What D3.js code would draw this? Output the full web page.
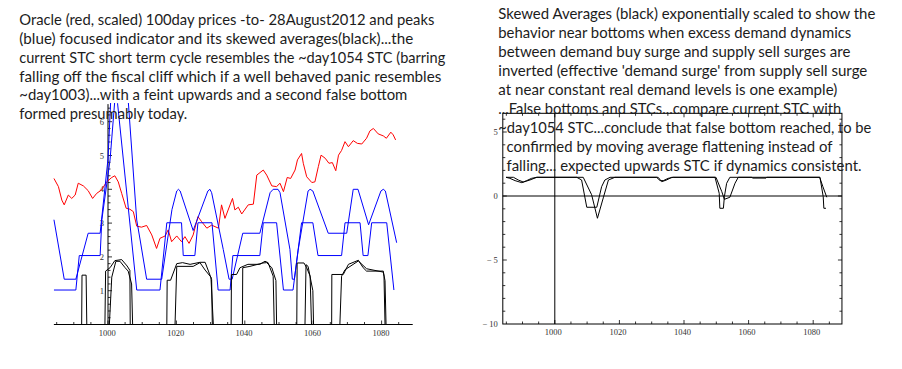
<!DOCTYPE html>
<html>
<head>
<meta charset="utf-8">
<script src="https://cdnjs.cloudflare.com/ajax/libs/d3/7.8.5/d3.min.js"></script>
<style>
  body { margin: 0; background: #fff; }
  svg { display: block; }
  .note { font-family: Lato, "Open Sans", sans-serif; font-size: 14.4px; fill: #1c1c1c; }
  .tick-label { font-family: "Liberation Serif", "DejaVu Serif", serif; font-size: 8.5px; fill: #333; }
</style>
</head>
<body>
<div id="chart_container"></div>
<script>
// DATA

// oracle price, scaled (red)
const priceDays = [984.2, 985.5, 986.5, 987.2, 988.4, 989.4, 990.4, 991.3, 992.8, 994.2, 995.5, 996.7, 998.1, 999.6,
  1001.1, 1002.0, 1003.0, 1004.0, 1005.3, 1006.4, 1007.4, 1008.4, 1009.8, 1011.3, 1012.8, 1014.2, 1015.2, 1016.7,
  1017.6, 1018.6, 1020.1, 1021.5, 1022.5, 1023.7, 1024.9, 1026.3, 1027.4, 1028.9, 1030.3, 1032.3, 1033.2, 1034.2,
  1036.4, 1037.1, 1038.1, 1039.1, 1041.0, 1042.5, 1043.5, 1045.4, 1046.4, 1047.9, 1049.3, 1050.3, 1051.3, 1052.4,
  1053.4, 1054.7, 1055.4, 1056.6, 1057.1, 1058.1, 1059.6, 1060.5, 1061.5, 1062.3, 1063.5, 1064.6, 1065.6, 1066.6,
  1067.4, 1068.3, 1069.3, 1070.3, 1071.7, 1072.9, 1074.2, 1075.6, 1076.6, 1077.6, 1079.0, 1080.5, 1081.4, 1082.7,
  1083.4, 1084.1];
const priceValues = [4.32, 4.08, 3.68, 3.54, 3.83, 3.73, 3.83, 4.18, 4.10, 3.96, 3.73, 3.88, 3.98, 4.22,
  4.35, 4.40, 4.22, 3.88, 3.44, 3.41, 3.34, 2.91, 2.88, 2.93, 2.65, 2.25, 2.55, 2.62,
  2.80, 2.45, 2.62, 2.45, 2.60, 2.40, 2.65, 3.19, 3.04, 2.85, 2.94, 2.85, 3.54, 3.14,
  3.73, 3.39, 3.47, 3.27, 3.54, 3.56, 4.42, 4.57, 4.42, 4.10, 4.08, 4.18, 3.93, 4.35,
  4.32, 4.57, 4.87, 5.06, 4.77, 4.37, 4.20, 4.22, 4.67, 5.01, 4.92, 4.77, 4.79, 4.55,
  5.01, 5.15, 5.41, 5.26, 5.44, 5.36, 5.34, 5.51, 5.73, 5.80, 5.64, 5.58, 5.51, 5.69,
  5.61, 5.46];

// peaks focused indicator (blue), [day, value]
const plateauIndicator = [[984.2, 1.02], [990.6, 1.02], [991.6, 2.04], [997.7, 2.04], [998.2, 3.1], [1000.6, 4.87],
  [1002.0, 6.64], [1002.5, 7.2], [1002.8, 6.54], [1008.4, 1.02], [1015.2, 1.02], [1017.2, 3.01], [1021.5, 3.01],
  [1022.0, 2.04], [1025.4, 2.04], [1026.3, 3.01], [1030.4, 3.01], [1032.2, 1.02], [1035.7, 1.02], [1036.5, 2.04],
  [1044.4, 2.04], [1045.4, 3.01], [1049.3, 3.01], [1051.3, 1.02], [1054.1, 1.02], [1056.6, 3.01], [1059.9, 3.01],
  [1061.4, 2.04], [1068.3, 2.04], [1069.3, 3.01], [1073.7, 3.01], [1074.6, 2.04], [1076.0, 2.04], [1077.1, 3.01],
  [1081.5, 3.01], [1083.6, 1.02]];
const peakIndicator = [[984.2, 3.1], [987.2, 1.34], [990.6, 1.34], [994.2, 2.70], [997.7, 2.70], [1000.0, 4.9],
  [1000.8, 6.64], [1001.5, 8.5], [1005.3, 8.5], [1005.9, 6.64], [1008.4, 3.09], [1009.4, 2.5], [1011.3, 1.34],
  [1015.7, 1.34], [1018.7, 3.4], [1020.1, 3.95], [1020.6, 4.0], [1021.1, 3.95], [1024.9, 2.78], [1029.2, 3.95],
  [1029.8, 4.0], [1030.3, 3.9], [1033.7, 2.22], [1035.4, 1.34], [1036.3, 1.34], [1039.4, 2.70], [1044.4, 2.70],
  [1047.4, 3.9], [1048.3, 4.0], [1049.7, 4.0], [1050.3, 3.9], [1053.2, 2.22], [1053.9, 1.34], [1054.5, 1.34],
  [1055.6, 2.2], [1058.5, 3.95], [1059.1, 4.0], [1059.9, 3.95], [1064.4, 2.70], [1069.8, 2.70], [1071.7, 4.0],
  [1073.1, 4.0], [1076.2, 2.95], [1079.8, 3.95], [1080.5, 4.0], [1081.1, 3.95], [1084.4, 2.42]];

// skewed averages (black), [day, value]
const skewedFast = [[984.2, 0], [992.3, 0], [992.4, 1.46], [993.6, 1.46], [993.8, 0], [999.1, 0], [999.3, 1.58],
  [1000.6, 1.68], [1002.0, 1.89], [1004.0, 1.92], [1005.6, 1.73], [1006.4, 1.6], [1006.5, 0], [1017.2, 0],
  [1017.3, 1.31], [1018.3, 1.31], [1020.1, 1.80], [1021.8, 1.83], [1024.0, 1.78], [1026.9, 1.84], [1028.4, 1.84],
  [1030.3, 1.33], [1030.5, 0], [1036.0, 0], [1036.1, 1.48], [1037.6, 1.48], [1038.6, 1.68], [1040.9, 1.78],
  [1044.4, 1.78], [1045.9, 1.87], [1046.8, 1.83], [1048.3, 1.43], [1048.6, 0], [1055.2, 0], [1055.3, 1.82],
  [1057.3, 1.82], [1058.1, 1.68], [1059.1, 1.43], [1059.5, 0], [1065.4, 0], [1065.45, 1.48], [1068.8, 1.48],
  [1070.3, 1.78], [1073.2, 1.90], [1074.6, 1.68], [1075.6, 1.58], [1080.5, 1.58], [1080.7, 1.43], [1081.0, 0],
  [1084.4, 0]];
const skewedSlow = [[984.2, 0], [1000.4, 0], [1001.1, 1.4], [1002.3, 1.87], [1003.5, 1.87], [1005.0, 1.68],
  [1005.9, 1.58], [1006.9, 1.2], [1007.2, 0], [1019.6, 0], [1020.1, 1.72], [1024.9, 1.72], [1026.9, 1.83],
  [1028.4, 1.61], [1030.1, 1.4], [1030.8, 0], [1039.3, 0], [1039.4, 1.68], [1041.5, 1.72], [1045.3, 1.82],
  [1046.4, 1.83], [1047.9, 1.68], [1049.1, 1.3], [1049.3, 0], [1057.6, 0], [1057.9, 1.77], [1058.5, 1.72],
  [1059.9, 1.0], [1060.1, 0], [1067.8, 0], [1068.3, 1.43], [1069.3, 1.62], [1073.2, 1.88], [1075.6, 1.65],
  [1080.5, 1.55], [1081.0, 1.3], [1081.3, 0], [1084.4, 0]];

// exponentially scaled skewed averages (right panel), [day, value]
const expSkewedFast = [[984.9, 1.46], [986.1, 1.38], [987.7, 1.2], [989.8, 1.04], [991.3, 1.2], [992.8, 1.38],
  [994.5, 1.46], [1006.8, 1.46], [1008.3, 1.25], [1009.9, -0.88], [1013.0, -0.88], [1014.5, 0.73], [1015.5, 1.25],
  [1017.1, 1.46], [1031.5, 1.46], [1032.6, 1.2], [1033.6, 1.2], [1035.1, 1.38], [1036.7, 1.46], [1049.6, 1.46],
  [1050.9, 0.21], [1051.1, -0.96], [1052.2, -0.96], [1052.5, -0.05], [1053.2, 0.99], [1054.2, 1.46], [1061.0, 1.46],
  [1061.2, 1.40], [1065.4, 1.40], [1065.6, 1.46], [1082.1, 1.46], [1083.1, -0.05], [1083.3, -0.96], [1083.95, -0.96]];
const expSkewedSlow = [[984.9, 1.46], [987.2, 1.46], [988.7, 1.25], [990.25, 1.09], [992.3, 1.25], [994.4, 1.46],
  [1008.8, 1.46], [1011.4, 0.1], [1013.2, -1.74], [1015.0, -0.15], [1016.6, 1.25], [1018.6, 1.46], [1032.0, 1.46],
  [1033.1, 1.12], [1034.6, 1.25], [1036.2, 1.46], [1049.9, 1.46], [1051.7, 0.34], [1052.5, -0.26], [1054.2, -0.1],
  [1055.8, 1.0], [1056.8, 1.46], [1082.0, 1.46], [1083.0, 0.73], [1084.2, -0.1]];

const dayTicks = [1000, 1020, 1040, 1060, 1080];
const leftValueTicks = [1, 2, 3, 4, 5, 6];
const rightValueTicks = [-10, -5, 0, 5];

const leftNote = [
  "Oracle (red, scaled) 100day prices -to- 28August2012 and peaks",
  "(blue) focused indicator and its skewed averages(black)...the",
  "current STC short term cycle resembles the ~day1054 STC (barring",
  "falling off the fiscal cliff which if a well behaved panic resembles",
  "~day1003)...with a feint upwards and a second false bottom",
  "formed presumably today."
];
const rightNote = [
  "Skewed Averages (black) exponentially scaled to show the",
  "behavior near bottoms when excess demand dynamics",
  "between demand buy surge and supply sell surges are",
  "inverted (effective 'demand surge' from supply sell surge",
  "at near constant real demand levels is one example)",
  "...False bottoms and STCs...compare current STC with",
  "~day1054 STC...conclude that false bottom reached, to be",
  "confirmed by moving average flattening instead of",
  "falling... expected upwards STC if dynamics consistent."
];

// LAYOUT
let svgWidth = 902;
let svgHeight = 369;

let svg = d3.select("#chart_container")
  .append("svg")
  .attr("width", svgWidth)
  .attr("height", svgHeight);

let xLeft = d3.scaleLinear().domain([1000, 1080]).range([108, 381.6]);
let yLeft = d3.scaleLinear().domain([0, 6]).range([324.5, 121.7]);
let xRight = d3.scaleLinear().domain([1000, 1080]).range([554.8, 813.2]);
let yRight = d3.scaleLinear().domain([-10, 5]).range([324, 132]);

let leftDays = [984.2, 1089.1];
let leftTop = 6.55;
let rightDays = [983.9, 1088.9];
let rightTop = 6.46;


function drawSeries(g, points, x, y, color) {
  let line = d3.line()
    .x(d => x(d[0]))
    .y(d => y(d[1]));
  g.append("path")
    .datum(points)
    .attr("d", line)
    .attr("fill", "none")
    .attr("stroke", color)
    .attr("stroke-width", 1)
    .attr("stroke-linejoin", "miter");
}


function renderLeftChart() {
  let g = svg.append("g");

  svg.append("clipPath")
    .attr("id", "leftClip")
    .append("rect")
    .attr("x", 40)
    .attr("y", yLeft(leftTop))
    .attr("width", 390)
    .attr("height", yLeft(-0.3) - yLeft(leftTop));

  // axes
  let y0 = yLeft(0);
  g.append("line")
    .attr("x1", xLeft(leftDays[0])).attr("x2", xLeft(leftDays[1]))
    .attr("y1", y0).attr("y2", y0)
    .attr("stroke", "#000").attr("stroke-width", 1);
  g.append("line")
    .attr("x1", xLeft(1000)).attr("x2", xLeft(1000))
    .attr("y1", y0).attr("y2", yLeft(leftTop) + 1)
    .attr("stroke", "#000").attr("stroke-width", 1);

  let minorX = d3.range(985, 1090, 5);
  g.selectAll(".xtick")
    .data(minorX)
    .enter()
    .append("line")
    .attr("x1", d => xLeft(d)).attr("x2", d => xLeft(d))
    .attr("y1", y0)
    .attr("y2", d => y0 - (d % 20 == 0 ? 4 : 2.5))
    .attr("stroke", "#000").attr("stroke-width", 0.8);

  let minorY = d3.range(0.2, 6.5, 0.2);
  g.selectAll(".ytick")
    .data(minorY)
    .enter()
    .append("line")
    .attr("x1", xLeft(1000))
    .attr("x2", d => xLeft(1000) + (Math.abs(d - Math.round(d)) < 0.01 ? 4 : 2.5))
    .attr("y1", d => yLeft(d)).attr("y2", d => yLeft(d))
    .attr("stroke", "#000").attr("stroke-width", 0.8);

  g.selectAll(".xlabel")
    .data(dayTicks)
    .enter()
    .append("text")
    .attr("class", "tick-label")
    .attr("x", d => xLeft(d) - 0.7)
    .attr("y", y0 + 11)
    .attr("text-anchor", "middle")
    .text(d => d);

  g.selectAll(".ylabel")
    .data(leftValueTicks)
    .enter()
    .append("text")
    .attr("class", "tick-label")
    .attr("x", xLeft(1000) - 4)
    .attr("y", d => yLeft(d) + 3)
    .attr("text-anchor", "end")
    .text(d => d);

  let plot = g.append("g").attr("clip-path", "url(#leftClip)");
  let priceSeries = priceDays.map((d, i) => [d, priceValues[i]]);
  drawSeries(plot, priceSeries, xLeft, yLeft, "#ff0000");
  drawSeries(plot, plateauIndicator, xLeft, yLeft, "#0000ff");
  drawSeries(plot, peakIndicator, xLeft, yLeft, "#0000ff");
  drawSeries(plot, skewedFast, xLeft, yLeft, "#000");
  drawSeries(plot, skewedSlow, xLeft, yLeft, "#000");
}


function renderRightChart() {
  let g = svg.append("g");
  let left = xRight(rightDays[0]);
  let right = xRight(rightDays[1]);
  let top = yRight(rightTop);
  let bottom = yRight(-10);

  g.append("rect")
    .attr("x", left).attr("y", top)
    .attr("width", right - left).attr("height", bottom - top)
    .attr("fill", "none").attr("stroke", "#000").attr("stroke-width", 1);

  // axes inside the frame
  g.append("line")
    .attr("x1", left).attr("x2", right)
    .attr("y1", yRight(0)).attr("y2", yRight(0))
    .attr("stroke", "#000").attr("stroke-width", 1);
  g.append("line")
    .attr("x1", xRight(1000)).attr("x2", xRight(1000))
    .attr("y1", top).attr("y2", bottom)
    .attr("stroke", "#000").attr("stroke-width", 1);

  let minorX = d3.range(985, 1090, 5);
  g.selectAll(".rxtick")
    .data(minorX)
    .enter()
    .append("line")
    .attr("x1", d => xRight(d)).attr("x2", d => xRight(d))
    .attr("y1", bottom)
    .attr("y2", d => bottom - (d % 20 == 0 ? 4 : 2.5))
    .attr("stroke", "#000").attr("stroke-width", 0.8);
  g.selectAll(".rxtick-top")
    .data(minorX)
    .enter()
    .append("line")
    .attr("x1", d => xRight(d)).attr("x2", d => xRight(d))
    .attr("y1", top)
    .attr("y2", d => top + (d % 20 == 0 ? 4 : 2.5))
    .attr("stroke", "#000").attr("stroke-width", 0.8);

  let minorY = d3.range(-9, 7, 1);
  g.selectAll(".rytick")
    .data(minorY)
    .enter()
    .append("line")
    .attr("x1", left)
    .attr("x2", d => left + (d % 5 == 0 ? 4 : 2.5))
    .attr("y1", d => yRight(d)).attr("y2", d => yRight(d))
    .attr("stroke", "#000").attr("stroke-width", 0.8);
  g.selectAll(".rytick-right")
    .data(minorY)
    .enter()
    .append("line")
    .attr("x1", right)
    .attr("x2", d => right - (d % 5 == 0 ? 4 : 2.5))
    .attr("y1", d => yRight(d)).attr("y2", d => yRight(d))
    .attr("stroke", "#000").attr("stroke-width", 0.8);

  g.selectAll(".rxlabel")
    .data(dayTicks)
    .enter()
    .append("text")
    .attr("class", "tick-label")
    .attr("x", d => xRight(d) - 1.5)
    .attr("y", bottom + 11)
    .attr("text-anchor", "middle")
    .text(d => d);

  g.selectAll(".rylabel")
    .data(rightValueTicks)
    .enter()
    .append("text")
    .attr("class", "tick-label")
    .attr("x", left - 5)
    .attr("y", d => yRight(d) + 3)
    .attr("text-anchor", "end")
    .text(d => d < 0 ? "\u2212\u2009" + Math.abs(d) : d);

  drawSeries(g, expSkewedFast, xRight, yRight, "#000");
  drawSeries(g, expSkewedSlow, xRight, yRight, "#000");
}


function renderNotes() {
  let leftLen = [415, 394, 426, 422, 388, 168];
  svg.selectAll(".left-note")
    .data(leftNote)
    .enter()
    .append("text")
    .attr("class", "note")
    .attr("x", 19.3)
    .attr("y", (d, i) => 25 + i * 18.86)
    .attr("textLength", (d, i) => leftLen[i])
    .attr("lengthAdjust", "spacingAndGlyphs")
    .text(d => d);

  let rightLen = [377, 353, 352, 369, 339, 343, 373, 326, 355];
  svg.selectAll(".right-note")
    .data(rightNote)
    .enter()
    .append("text")
    .attr("class", "note")
    .attr("x", (d, i) => i < 7 ? 498.3 : 506.5)
    .attr("y", (d, i) => 19.3 + i * 19)
    .attr("textLength", (d, i) => rightLen[i])
    .attr("lengthAdjust", "spacingAndGlyphs")
    .text(d => d);
}


renderLeftChart();
renderRightChart();
renderNotes();
</script>
</body>
</html>
